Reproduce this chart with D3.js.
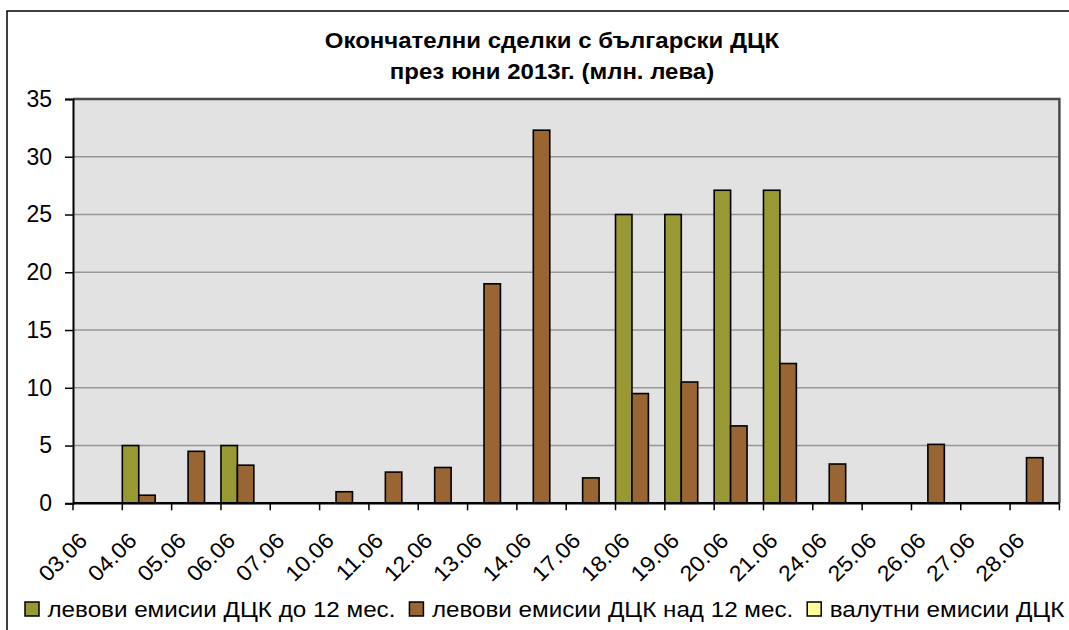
<!DOCTYPE html>
<html>
<head>
<meta charset="utf-8">
<script src="https://cdn.jsdelivr.net/npm/d3@7"></script>
<style>
  body { margin: 0; background: #fff; }
  svg { display: block; font-family: "Liberation Sans", Arial, sans-serif; }
</style>
</head>
<body>
<div id="chart"></div>
<script>
// data (млн. лева)
const dates = ["03.06", "04.06", "05.06", "06.06", "07.06", "10.06", "11.06", "12.06", "13.06", "14.06",
               "17.06", "18.06", "19.06", "20.06", "21.06", "24.06", "25.06", "26.06", "27.06", "28.06"];
const shortTerm = [0, 5, 0, 5, 0, 0, 0, 0, 0, 0, 0, 25, 25, 27.1, 27.1, 0, 0, 0, 0, 0];
const longTerm = [0, 0.7, 4.5, 3.3, 0, 1.0, 2.7, 3.1, 19.0, 32.3, 2.2, 9.5, 10.5, 6.7, 12.1, 3.4, 0, 5.1, 0, 3.95];
const foreign = [0, 0, 0, 0, 0, 0, 0, 0, 0, 0, 0, 0, 0, 0, 0, 0, 0, 0, 0, 0];
const seriesNames = ["левови емисии ДЦК до 12 мес.", "левови емисии ДЦК над 12 мес.", "валутни емисии ДЦК"];
const seriesColors = ["#999933", "#996633", "#ffff99"];
const yTicks = [0, 5, 10, 15, 20, 25, 30, 35];
const titleLines = ["Окончателни сделки с български ДЦК", "през юни 2013г. (млн. лева)"];

const width = 1069, height = 630;
const plotLeft = 73, plotRight = 1059.4, plotTop = 99, plotBottom = 503.3;
// the original picture is a little wider than tall, text looks stretched sideways
const stretch = 1.09;

const svg = d3.select("#chart").append("svg")
    .attr("width", width)
    .attr("height", height);

// outer chart frame (right and bottom edges fall outside the picture)
svg.append("rect")
    .attr("x", 7).attr("y", 11)
    .attr("width", 1080).attr("height", 640)
    .attr("fill", "#fff")
    .attr("stroke", "#000")
    .attr("stroke-width", 1.5);

// title
svg.append("g")
    .attr("transform", `translate(552,0) scale(${stretch},1)`)
    .append("text")
    .attr("text-anchor", "middle")
    .style("font-size", "22px")
    .style("font-weight", "bold")
    .selectAll("tspan")
    .data(titleLines)
    .join("tspan")
    .attr("x", 0)
    .attr("y", (d, i) => 48 + i * 31)
    .text(d => d);

//scales
const x = d3.scaleBand().domain(dates).range([plotLeft, plotRight]).padding(0);
const sub = d3.scaleBand().domain(d3.range(3)).range([0, x.bandwidth()]).padding(0);
const y = d3.scaleLinear().domain([0, 35]).range([plotBottom, plotTop]);

// plot area
svg.append("rect")
    .attr("x", plotLeft).attr("y", plotTop)
    .attr("width", plotRight - plotLeft).attr("height", plotBottom - plotTop)
    .attr("fill", "#e2e2e2");

// gridlines
svg.append("g")
    .selectAll("line")
    .data(yTicks.filter(d => d > 0 && d < 35))
    .join("line")
    .attr("x1", plotLeft).attr("x2", plotRight)
    .attr("y1", d => y(d)).attr("y2", d => y(d))
    .attr("stroke", "#979797")
    .attr("stroke-width", 1.5);

// plot border top/right
svg.append("path")
    .attr("d", `M${plotLeft},${plotTop}H${plotRight}V${plotBottom}`)
    .attr("fill", "none")
    .attr("stroke", "#4a4a4a")
    .attr("stroke-width", 2.5);

// bars
const series = [shortTerm, longTerm, foreign];
series.forEach((vals, s) => {
    svg.append("g")
        .selectAll("rect")
        .data(vals.map((v, i) => ({ date: dates[i], v })).filter(d => d.v > 0))
        .join("rect")
        .attr("x", d => x(d.date) + sub(s))
        .attr("y", d => y(d.v))
        .attr("width", sub.bandwidth())
        .attr("height", d => y(0) - y(d.v))
        .attr("fill", seriesColors[s])
        .attr("stroke", "#000")
        .attr("stroke-width", 1.6);
});

// y axis
const yAxis = svg.append("g")
    .attr("transform", `translate(${plotLeft},0)`)
    .call(d3.axisLeft(y).tickValues(yTicks).tickSize(8).tickPadding(13).tickFormat(d3.format("d")));
yAxis.select(".domain").attr("stroke", "#000").attr("stroke-width", 2);
yAxis.selectAll(".tick line").attr("stroke", "#000").attr("stroke-width", 1.5);
yAxis.selectAll("text")
    .style("font-size", "23px")
    .style("font-family", "'Liberation Sans', Arial, sans-serif")
    .attr("fill", "#000");

// x axis: ticks on category boundaries
const bounds = dates.map(d => x(d)).concat([plotRight]);
svg.append("line")
    .attr("x1", plotLeft).attr("x2", plotRight)
    .attr("y1", plotBottom).attr("y2", plotBottom)
    .attr("stroke", "#000")
    .attr("stroke-width", 2.5);
svg.append("g")
    .selectAll("line")
    .data(bounds)
    .join("line")
    .attr("x1", d => d).attr("x2", d => d)
    .attr("y1", plotBottom).attr("y2", plotBottom + 7)
    .attr("stroke", "#000")
    .attr("stroke-width", 1.5);

svg.append("g")
    .selectAll("text")
    .data(dates)
    .join("text")
    .attr("text-anchor", "end")
    .attr("transform", d => `translate(${x(d) + x.bandwidth() / 2 - 9},${542}) rotate(-45) scale(1.05,1)`)
    .style("font-size", "22px")
    .text(d => d);

// legend
const legend = svg.append("g").attr("transform", "translate(25,617)");
let lx = 0;
seriesNames.forEach((name, i) => {
    legend.append("rect")
        .attr("x", lx).attr("y", -15)
        .attr("width", 14).attr("height", 14)
        .attr("fill", seriesColors[i])
        .attr("stroke", "#000")
        .attr("stroke-width", 1.5);
    const t = legend.append("text")
        .attr("transform", `translate(${lx + 22.5},0) scale(1.1,1)`)
        .style("font-size", "22px")
        .text(name);
    lx += 22.5 + t.node().getComputedTextLength() * 1.1 + 14;
});
</script>
</body>
</html>
